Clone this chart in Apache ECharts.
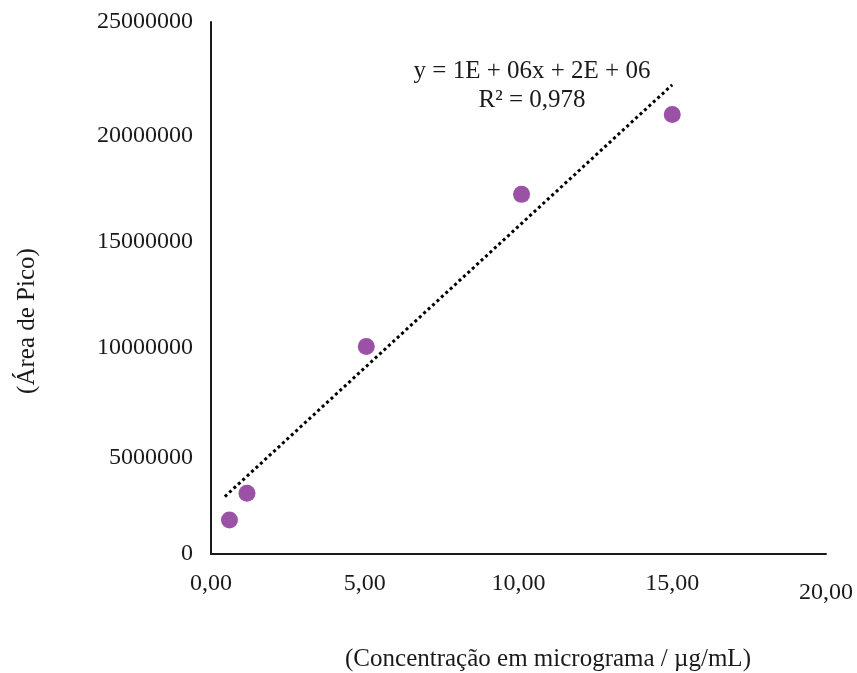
<!DOCTYPE html>
<html>
<head>
<meta charset="utf-8">
<script src="https://cdn.jsdelivr.net/npm/echarts@6/dist/echarts.min.js"></script>
<style>
  html, body { margin: 0; padding: 0; background: #ffffff; }
  #chart { width: 857px; height: 673px; }
</style>
</head>
<body>
<div id="chart"></div>
<script>
// Calibration points: concentration (µg/mL) vs peak area
const concentrations = [0.6, 1.17, 5.05, 10.1, 15.0];
const peakAreas = [1600000, 2850000, 9750000, 16900000, 20650000];

// Linear trendline as shown with its equation
const trendSlope = 1330000;
const trendIntercept = 2100000;
const trendRange = [0.45, 15.0];
const equationLines = ['y = 1E + 06x + 2E + 06', 'R² = 0,978'];

const xTicks = { min: 0, max: 20, interval: 5 };
const yTicks = { min: 0, max: 25000000, interval: 5000000 };

const xTitle = '(Concentração em micrograma / µg/mL)';
const yTitle = '(Área de Pico)';

const font = '"Liberation Serif", "Times New Roman", serif';
const ink = '#1a1a1a';

const points = concentrations.map((x, i) => [x, peakAreas[i]]);
const trendData = trendRange.map(x => [x, trendSlope * x + trendIntercept]);

const chart = echarts.init(document.getElementById('chart'), null, { renderer: 'canvas' });

const labelText = { fontFamily: font, fontSize: 24, color: ink };

chart.setOption({
  backgroundColor: '#ffffff',
  animation: false,
  grid: { left: 211, right: 31, top: 22, bottom: 119, containLabel: false },
  xAxis: {
    type: 'value',
    min: xTicks.min, max: xTicks.max, interval: xTicks.interval,
    axisLine: { show: true, lineStyle: { color: ink, width: 2 } },
    axisTick: { show: false },
    splitLine: { show: false },
    axisLabel: Object.assign({
      margin: 18,
      formatter: v => {
        const s = v.toFixed(2).replace('.', ',');
        return v === xTicks.max ? '{low|' + s + '}' : s;
      },
      rich: { low: Object.assign({ padding: [9, 0, 0, 0] }, labelText) }
    }, labelText)
  },
  yAxis: {
    type: 'value',
    min: yTicks.min, max: yTicks.max, interval: yTicks.interval,
    axisLine: { show: true, lineStyle: { color: ink, width: 2 } },
    axisTick: { show: false },
    splitLine: { show: false },
    axisLabel: Object.assign({
      margin: 18,
      formatter: v => {
        if (v === yTicks.min || v === yTicks.max) return String(v);
        return (v === yTicks.interval ? '{lo|' : '{mid|') + v + '}';
      },
      rich: {
        lo: Object.assign({ padding: [20, 0, 0, 0] }, labelText),
        mid: Object.assign({ padding: [14, 0, 0, 0] }, labelText)
      }
    }, labelText)
  },
  series: [
    {
      type: 'line',
      data: trendData,
      symbol: 'none',
      silent: true,
      lineStyle: { color: '#000000', width: 3, type: [3, 3], cap: 'butt' },
      z: 2
    },
    {
      type: 'scatter',
      data: points,
      symbolSize: 17,
      itemStyle: { color: '#9b51a6', opacity: 1 },
      z: 3
    }
  ],
  graphic: [
    {
      type: 'text',
      x: 532, y: 57,
      style: {
        text: equationLines.join('\n'),
        font: '25px ' + font,
        fill: ink,
        align: 'center',
        verticalAlign: 'top',
        lineHeight: 29
      }
    },
    {
      type: 'text',
      x: 548, y: 659,
      style: {
        text: xTitle,
        font: '25px ' + font,
        fill: ink,
        align: 'center',
        verticalAlign: 'middle'
      }
    },
    {
      type: 'text',
      x: 27, y: 321,
      rotation: Math.PI / 2,
      style: {
        text: yTitle,
        font: '25px ' + font,
        fill: ink,
        align: 'center',
        verticalAlign: 'middle'
      }
    }
  ]
});
</script>
</body>
</html>
